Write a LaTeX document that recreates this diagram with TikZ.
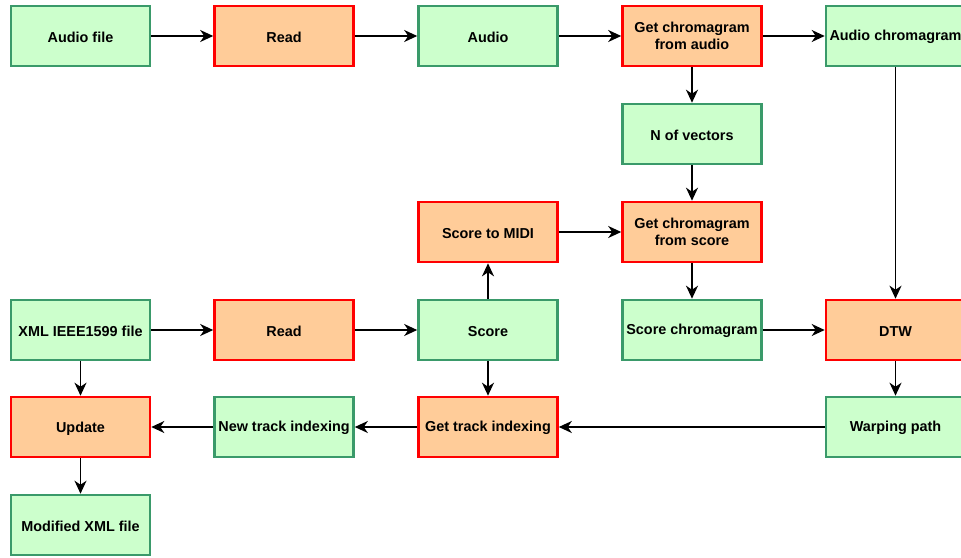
\documentclass[tikz,border=0pt]{standalone}
\usepackage{fontspec}
\setmainfont{Liberation Sans}
\usetikzlibrary{arrows.meta}
\definecolor{gfill}{HTML}{CCFFCC}
\definecolor{gdraw}{HTML}{3A9A6A}
\definecolor{ofill}{HTML}{FFCC99}
\definecolor{odraw}{HTML}{FF0000}
\tikzset{
  base/.style={rectangle, minimum width=139pt, minimum height=60pt, line width=2.6pt, align=center,
    font=\fontsize{14.4}{17.5}\selectfont\bfseries, inner sep=0pt,
    execute at begin node={\rule{0pt}{13pt}}},
  gbox/.style={base, fill=gfill, draw=gdraw},
  obox/.style={base, fill=ofill, draw=odraw},
  conn/.style={line width=1.5pt, -{Stealth[length=13pt,width=12pt,inset=4pt]}}
}
\begin{document}
\begin{tikzpicture}[x=1pt,y=-1pt]
\useasboundingbox (0,0) rectangle (961,557);
\clip (0,0) rectangle (961,557);
\fill[white] (0,0) rectangle (961,557);
% columns 80.5, 284, 488, 692, 895.5 ; rows 36, 134, 232, 330, 427, 525
\node[gbox] (audiofile) at (80.5,36) {Audio file};
\node[obox] (read1) at (284,36) {Read};
\node[gbox] (audio) at (488,36) {Audio};
\node[obox] (gca) at (692,36) {Get chromagram\\from audio};
\node[gbox] (achrom) at (895.5,36) {Audio chromagram};
\node[gbox] (nvec) at (692,134) {N of vectors};
\node[obox] (midi) at (488,232) {Score to MIDI};
\node[obox] (gcs) at (692,232) {Get chromagram\\from score};
\node[gbox] (xml) at (80.5,330) {XML IEEE1599 file};
\node[obox] (read2) at (284,330) {Read};
\node[gbox] (score) at (488,330) {Score};
\node[gbox] (schrom) at (692,330) {Score chromagram};
\node[obox] (dtw) at (895.5,330) {DTW};
\node[obox] (update) at (80.5,427) {Update};
\node[gbox] (newtrack) at (284,427) {New track indexing};
\node[obox] (gettrack) at (488,427) {Get track indexing};
\node[gbox] (warp) at (895.5,427) {Warping path};
\node[gbox] (modified) at (80.5,525) {Modified XML file};

\draw[conn] (audiofile) -- (read1);
\draw[conn] (read1) -- (audio);
\draw[conn] (audio) -- (gca);
\draw[conn] (gca) -- (achrom);
\draw[conn] (gca) -- (nvec);
\draw[conn] (nvec) -- (gcs);
\draw[conn] (midi) -- (gcs);
\draw[conn] (achrom) -- (dtw);
\draw[conn] (xml) -- (read2);
\draw[conn] (read2) -- (score);
\draw[conn] (score) -- (midi);
\draw[conn] (gcs) -- (schrom);
\draw[conn] (schrom) -- (dtw);
\draw[conn] (dtw) -- (warp);
\draw[conn] (warp) -- (gettrack);
\draw[conn] (score) -- (gettrack);
\draw[conn] (gettrack) -- (newtrack);
\draw[conn] (newtrack) -- (update);
\draw[conn] (xml) -- (update);
\draw[conn] (update) -- (modified);
\end{tikzpicture}
\end{document}
